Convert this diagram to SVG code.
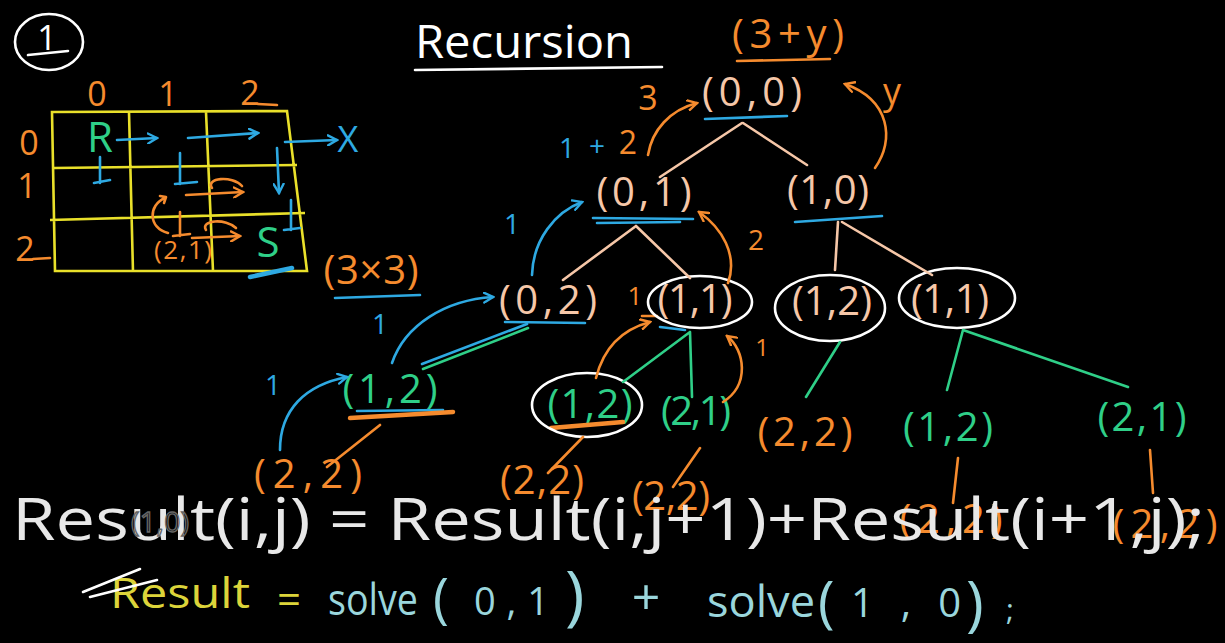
<svg xmlns="http://www.w3.org/2000/svg" width="1225" height="643" viewBox="0 0 1225 643">
<defs>
<style>
text{font-family:"Open Sans","Liberation Sans",sans-serif;}
.hw{font-size:40px;text-anchor:middle;lengthAdjust:spacing;}
.pe{fill:#f6c7a8}
.or{fill:#f58b2e}
.bl{fill:#2ea9e2}
.gr{fill:#2fcf88}
.wh{fill:#ffffff}
.ye{fill:#dcd43a}
.cy{fill:#9ad6dc}
.ln{fill:none;stroke-width:2.6;stroke-linecap:round;stroke-linejoin:round}
.sp{stroke:#f6c7a8}
.so{stroke:#f58b2e}
.sb{stroke:#2ea9e2}
.sg{stroke:#2fcf88}
.sw{stroke:#ffffff}
.circ{fill:none;stroke:#ffffff;stroke-width:2.6}
</style>
<marker id="ao" viewBox="0 0 12 12" refX="10" refY="6" markerWidth="12" markerHeight="12" markerUnits="userSpaceOnUse" orient="auto"><path d="M1,1 L10,6 L1,11" fill="none" stroke="#f58b2e" stroke-width="2.4" stroke-linecap="round"/></marker>
<marker id="ab" viewBox="0 0 12 12" refX="10" refY="6" markerWidth="12" markerHeight="12" markerUnits="userSpaceOnUse" orient="auto"><path d="M1,1 L10,6 L1,11" fill="none" stroke="#2ea9e2" stroke-width="2.4" stroke-linecap="round"/></marker>
</defs>
<rect width="1225" height="643" fill="#000"/>

<!-- header -->
<g id="badge">
<ellipse cx="49" cy="42" rx="34" ry="28" class="circ"/>
<text x="47" y="50" class="wh" font-size="34" text-anchor="middle">1</text>
<path d="M28,55 L68,51" class="ln sw"/>
</g>
<g id="title">
<text x="415" y="58" class="wh" font-size="46" textLength="218" lengthAdjust="spacingAndGlyphs">Recursion</text>
<path d="M415,70 L662,67" class="ln sw"/>
</g>

<!-- grid -->
<g id="grid">
<path d="M52,112 L287,111 L307,271 L55,271 Z M129,112 L133,272 M206,112 L213,271 M54,168 L297,165 M50,220 L305,213" fill="none" stroke="#e9e02a" stroke-width="2.6"/>
<text x="97" y="106" class="or" font-size="34" text-anchor="middle">0</text>
<text x="168" y="106" class="or" font-size="34" text-anchor="middle">1</text>
<text x="250" y="105" class="or" font-size="34" text-anchor="middle">2</text>
<path d="M258,104 L277,105" class="ln so"/>
<text x="29" y="155" class="or" font-size="34" text-anchor="middle">0</text>
<text x="27" y="198" class="or" font-size="34" text-anchor="middle">1</text>
<text x="25" y="261" class="or" font-size="34" text-anchor="middle">2</text>
<path d="M33,259 L50,258" class="ln so"/>
<text x="100" y="152" class="gr" font-size="42" text-anchor="middle">R</text>
<text x="268" y="257" class="gr" font-size="42" text-anchor="middle">S</text>
<text x="348" y="152" class="bl" font-size="36" text-anchor="middle">X</text>
<path d="M117,140 L157,138" class="ln sb" marker-end="url(#ab)"/>
<path d="M188,138 L258,133" class="ln sb" marker-end="url(#ab)"/>
<path d="M285,142 L337,140" class="ln sb" marker-end="url(#ab)"/>
<path d="M100,157 L100,183 M94,183 L110,180 M180,153 L180,184 M175,184 L197,182 M291,200 L291,230 M284,230 L300,228" class="ln sb"/>
<path d="M277,148 L279,193" class="ln sb" marker-end="url(#ab)"/>
<path d="M250,277 L292,268" fill="none" stroke="#2ea9e2" stroke-width="4.5" stroke-linecap="round"/>
<path d="M242,186 C232,175 205,178 212,188" class="ln so"/>
<path d="M186,195 L243,192" class="ln so" marker-end="url(#ao)"/>
<path d="M168,233 C148,228 148,205 165,198 M160,196 L166,197 L164,203" class="ln so"/>
<path d="M180,212 L180,236 M173,236 L190,234" class="ln so"/>
<path d="M236,228 C226,218 200,220 206,230" class="ln so"/>
<path d="M192,238 L240,236" class="ln so" marker-end="url(#ao)"/>
<text x="183" y="259" class="or" font-size="26" text-anchor="middle" textLength="58" lengthAdjust="spacing">(2,1)</text>
</g>

<g id="size">
<text x="371" y="284" class="or hw" textLength="95">(3×3)</text>
<path d="M335,298 L420,295" class="ln sb"/>
</g>

<!-- annotations -->
<g id="annotations">
<text x="788" y="48" class="or hw" font-size="46" textLength="112">(3+y)</text>
<path d="M737,61 L830,59" class="ln so"/>
<text x="648" y="110" class="or" font-size="34" text-anchor="middle">3</text>
<text x="567" y="158" class="bl" font-size="28" text-anchor="middle">1</text>
<text x="597" y="156" class="bl" font-size="28" text-anchor="middle">+</text>
<text x="628" y="154" class="or" font-size="32" text-anchor="middle">2</text>
<text x="892" y="104" class="or" font-size="36" text-anchor="middle">y</text>
<text x="756" y="250" class="or" font-size="28" text-anchor="middle">2</text>
<text x="512" y="234" class="bl" font-size="28" text-anchor="middle">1</text>
<text x="380" y="334" class="bl" font-size="28" text-anchor="middle">1</text>
<text x="273" y="395" class="bl" font-size="28" text-anchor="middle">1</text>
<text x="635" y="305" class="or" font-size="26" text-anchor="middle">1</text>
<path d="M642,316 L657,316" class="ln so"/>
<text x="762" y="356" class="or" font-size="24" text-anchor="middle">1</text>
</g>

<!-- nodes -->
<g id="n00"><text x="752" y="106" class="pe hw" textLength="100">(0,0)</text><path d="M705,119 L787,116" class="ln sb"/></g>
<g id="n01"><text x="644" y="206" class="pe hw" textLength="95">(0,1)</text><path d="M593,218 L693,219 M597,223 L680,222" class="ln sb"/></g>
<g id="n10"><text x="828" y="204" class="pe hw" textLength="82">(1,0)</text><path d="M795,222 L882,216" class="ln sb"/></g>
<g id="n02"><text x="548" y="314" class="pe hw" textLength="98">(0,2)</text><path d="M505,322 L585,323" class="ln sb"/></g>
<g id="n11a"><text x="695" y="313" class="pe hw" textLength="75">(1,1)</text><ellipse cx="700" cy="302" rx="52" ry="26" class="circ"/><path d="M660,327 L685,330" class="ln sb"/></g>
<g id="n12a"><text x="832" y="315" class="pe hw" textLength="80">(1,2)</text><ellipse cx="830" cy="308" rx="55" ry="33" class="circ"/></g>
<g id="n11b"><text x="950" y="313" class="pe hw" textLength="78">(1,1)</text><ellipse cx="957" cy="298" rx="58" ry="30" class="circ"/></g>
<g id="n12b"><text x="390" y="403" class="gr hw" textLength="95">(1,2)</text><path d="M357,411 L443,410" class="ln sb"/><path d="M350,418 L453,412" fill="none" stroke="#f58b2e" stroke-width="4.5" stroke-linecap="round"/></g>
<g id="n22a"><text x="308" y="488" class="or hw" textLength="108">(2,2)</text></g>
<g id="n12c"><text x="590" y="418" class="gr hw" textLength="85">(1,2)</text><path d="M551,428 L623,422" fill="none" stroke="#f58b2e" stroke-width="4.5" stroke-linecap="round"/><ellipse cx="587" cy="405" rx="55" ry="32" class="circ"/></g>
<g id="n21a"><text x="696" y="425" class="gr hw" textLength="70">(2,1)</text></g>
<g id="n22b"><text x="542" y="494" class="or hw" font-size="36" textLength="84">(2,2)</text></g>
<g id="n22c"><text x="671" y="510" class="or hw" font-size="32" textLength="78">(2,2)</text></g>
<g id="n22d"><text x="805" y="446" class="or hw" textLength="95">(2,2)</text></g>
<g id="n12d"><text x="948" y="441" class="gr hw" textLength="90">(1,2)</text></g>
<g id="n21b"><text x="1142" y="431" class="gr hw" textLength="89">(2,1)</text></g>
<g id="n22e"><text x="951" y="533" class="or hw" textLength="103">(2,2)</text></g>
<g id="n22f"><text x="1165" y="538" class="or hw" textLength="105">(2,2)</text></g>

<!-- connectors -->
<g id="connectors">
<path d="M742,123 L660,177 M743,123 L807,165 M636,226 L563,280 M636,226 L690,278 M838,222 L835,270 M842,222 L932,275" class="ln sp"/>
<path d="M690,332 L623,382 M690,332 L692,397 M840,342 L806,397 M963,330 L947,390 M963,330 L1128,387 M423,369 L528,328" class="ln sg"/>
<path d="M380,425 L327,467 M583,437 L548,473 M700,448 L673,487 M958,458 L953,503 M1150,450 L1153,493" class="ln so"/>
<path d="M422,364 L527,324" class="ln sb"/>
<path d="M648,155 C652,130 670,110 697,103" class="ln so" marker-end="url(#ao)"/>
<path d="M875,168 C895,140 890,100 845,84" class="ln so" marker-end="url(#ao)"/>
<path d="M728,283 C738,255 722,228 699,212" class="ln so" stroke-width="3.4" marker-end="url(#ao)"/>
<path d="M596,378 C603,350 620,330 650,322" class="ln so" marker-end="url(#ao)"/>
<path d="M723,402 C750,385 745,350 727,336" class="ln so" marker-end="url(#ao)"/>
<path d="M532,275 C533,240 555,212 582,202" class="ln sb" marker-end="url(#ab)"/>
<path d="M392,363 C405,325 445,300 493,297" class="ln sb" marker-end="url(#ab)"/>
<path d="M280,450 C280,410 305,385 347,377" class="ln sb" marker-end="url(#ab)"/>
</g>

<!-- formula -->
<g id="formula">
<text x="12" y="540" font-family="'DejaVu Sans','Liberation Sans',sans-serif" font-size="58" fill="#e8e8e8" textLength="1193" lengthAdjust="spacingAndGlyphs">Result(i,j) = Result(i,j+1)+Result(i+1,j);</text>
<text x="160" y="532" font-size="28" text-anchor="middle" fill="none" stroke="#666" stroke-width="1.4" textLength="58" lengthAdjust="spacing">(1,0)</text>
</g>

<g id="code">
<text x="110" y="608" class="ye" font-size="42" textLength="140" lengthAdjust="spacingAndGlyphs">Result</text>
<path d="M83,592 L140,569 M90,597 L157,580" class="ln sw" stroke-width="2"/>
<text x="289" y="614" class="ye" font-size="42" text-anchor="middle">=</text>
<text x="328" y="615" class="cy" font-size="44" textLength="90" lengthAdjust="spacingAndGlyphs">solve</text>
<text x="433" y="617" class="cy" font-size="54">(</text>
<text x="474" y="615" class="cy" font-size="38" textLength="75" lengthAdjust="spacing">0,1</text>
<text x="565" y="618" class="cy" font-size="66">)</text>
<text x="646" y="615" class="cy" font-size="50" text-anchor="middle">+</text>
<text x="707" y="617" class="cy" font-size="44" textLength="108" lengthAdjust="spacingAndGlyphs">solve</text>
<text x="818" y="622" class="cy" font-size="56">(</text>
<text x="851" y="617" class="cy" font-size="40" textLength="110" lengthAdjust="spacing">1,0</text>
<text x="966" y="624" class="cy" font-size="60">)</text>
<text x="1006" y="620" class="cy" font-size="30">;</text>
</g>
</svg>
